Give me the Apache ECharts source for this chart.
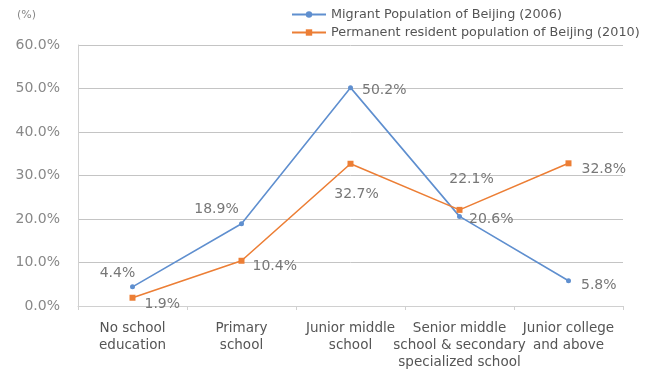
<!DOCTYPE html>
<html>
<head>
<meta charset="utf-8">
<script src="https://cdn.jsdelivr.net/npm/echarts@6/dist/echarts.min.js"></script>
<style>
  html, body { margin: 0; padding: 0; background: #fff; }
  #chart { width: 655px; height: 376px; }
</style>
</head>
<body>
<div id="chart"></div>
<script>
// Education level categories
var categories = [
  'No school\neducation',
  'Primary\nschool',
  'Junior middle\nschool',
  'Senior middle\nschool & secondary\nspecialized school',
  'Junior college\nand above'
];
var seriesNames = [
  'Migrant Population of Beijing (2006)',
  'Permanent resident population of Beijing (2010)'
];
// Share of population (%)
var migrant2006 = [4.4, 18.9, 50.2, 20.6, 5.8];
var resident2010 = [1.9, 10.4, 32.7, 22.1, 32.8];
var yTicks = [0, 10, 20, 30, 40, 50, 60];

// Label placement for each point (position, offset)
var migrantLabelPos = [
  ['top', [-15, 1]], ['top', [-25, 0]], ['right', [4, 3]], ['right', [2, 3]], ['right', [5, 5]]
];
var residentLabelPos = [
  ['right', [4, 7]], ['right', [3, 6]], ['bottom', [6, 16]], ['top', [12, -16]], ['right', [5, 6]]
];

var numFont = '"DejaVu Sans", sans-serif';
var textFont = '"DejaVu Sans", sans-serif';
function pct(v) { return v.toFixed(1) + '%'; }

function buildData(values, placements) {
  return values.map(function (v, i) {
    return {
      value: v,
      label: { position: placements[i][0], offset: placements[i][1] }
    };
  });
}

var chart = echarts.init(document.getElementById('chart'), null, { renderer: 'canvas' });
chart.setOption({
  animation: false,
  color: ['#5f8fcf', '#ec7e35'],
  grid: { left: 78, right: 32, top: 45, bottom: 70 },
  legend: {
    orient: 'vertical',
    left: 286,
    top: 3,
    itemGap: 5,
    itemWidth: 34,
    itemHeight: 8,
    textStyle: { color: '#555', fontSize: 12.8, fontFamily: textFont },
    data: seriesNames
  },
  graphic: [{
    type: 'text',
    left: 17,
    top: 10,
    style: { text: '(%)', fill: '#888', font: '11px ' + numFont }
  }],
  xAxis: {
    type: 'category',
    data: categories,
    boundaryGap: true,
    axisLine: { lineStyle: { color: '#d0d0d0', width: 1 } },
    axisTick: { show: true, alignWithLabel: false, length: 4, lineStyle: { color: '#d0d0d0' } },
    axisLabel: {
      color: '#555',
      fontSize: 13.5,
      lineHeight: 17,
      margin: 14,
      interval: 0,
      fontFamily: textFont
    }
  },
  yAxis: {
    type: 'value',
    min: 0,
    max: 60,
    interval: 10,
    axisLine: { show: true, lineStyle: { color: '#d0d0d0' } },
    axisTick: { show: false },
    splitLine: { lineStyle: { color: '#c4c4c4', width: 1 } },
    axisLabel: {
      color: '#888',
      fontSize: 14,
      margin: 18,
      fontFamily: numFont,
      formatter: function (v) { return yTicks.indexOf(v) >= 0 ? pct(v) : ''; }
    }
  },
  series: [
    {
      name: seriesNames[0],
      type: 'line',
      data: buildData(migrant2006, migrantLabelPos),
      symbol: 'circle',
      symbolSize: 5,
      lineStyle: { width: 1.6 },
      label: {
        show: true,
        color: '#777',
        fontSize: 14,
        fontFamily: numFont,
        formatter: function (p) { return pct(p.value); }
      }
    },
    {
      name: seriesNames[1],
      type: 'line',
      data: buildData(resident2010, residentLabelPos),
      symbol: 'rect',
      symbolSize: 6,
      lineStyle: { width: 1.6 },
      label: {
        show: true,
        color: '#777',
        fontSize: 14,
        fontFamily: numFont,
        formatter: function (p) { return pct(p.value); }
      }
    }
  ]
});
</script>
</body>
</html>
